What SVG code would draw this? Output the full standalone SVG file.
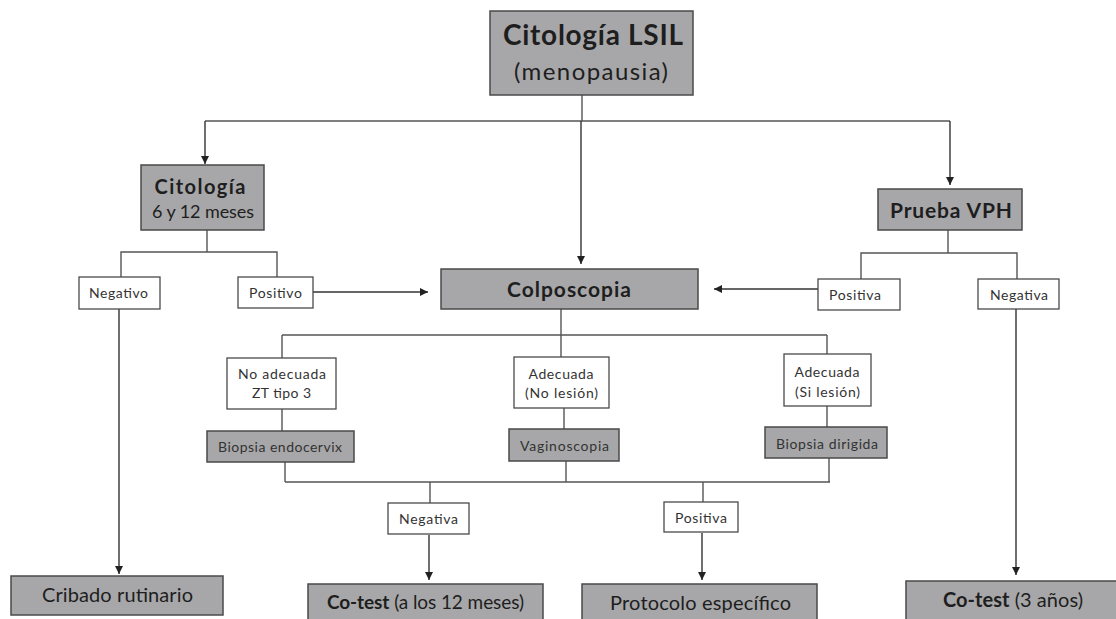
<svg xmlns="http://www.w3.org/2000/svg" width="1116" height="619" viewBox="0 0 1116 619">
<style>
.g{fill:#a7a7a9;stroke:#4a4a4a;stroke-width:1.5}
.w{fill:#ffffff;stroke:#4a4a4a;stroke-width:1.3}
.t{font-family:Lato,"Open Sans","Liberation Sans",sans-serif;fill:#1e1e1e;text-anchor:middle}
.b{font-weight:bold}
.s{font-size:14px;fill:#333}
.c line,.c polyline{stroke:#555;stroke-width:1.4;fill:none}
.c .a{stroke:#333;marker-end:url(#ah)}
</style>
<defs>
<marker id="ah" viewBox="0 0 8 10" refX="8" refY="5" markerWidth="8" markerHeight="10" markerUnits="userSpaceOnUse" orient="auto">
<path d="M0,1 L8,5 L0,9 z" fill="#222"/>
</marker>
</defs>
<rect width="1116" height="619" fill="#ffffff"/>
<g class="c" id="connectors">
<line x1="582" y1="95" x2="582" y2="121"/>
<line x1="205" y1="121" x2="950" y2="121"/>
<line class="a" x1="205" y1="121" x2="205" y2="164"/>
<line class="a" x1="581" y1="121" x2="581" y2="264"/>
<line class="a" x1="950" y1="121" x2="950" y2="185"/>
<line x1="207" y1="230" x2="207" y2="252"/>
<polyline points="121,277 121,252 277,252 277,277"/>
<line class="a" x1="313" y1="292" x2="428" y2="292"/>
<line x1="948" y1="230" x2="948" y2="253"/>
<polyline points="861,279 861,253 1017,253 1017,279"/>
<line class="a" x1="818" y1="289" x2="714" y2="289"/>
<line class="a" x1="119" y1="309" x2="119" y2="574"/>
<line class="a" x1="1016" y1="309" x2="1016" y2="575"/>
<line x1="561" y1="309" x2="561" y2="357"/>
<line x1="282" y1="335" x2="827" y2="335"/>
<line x1="282" y1="335" x2="282" y2="358"/>
<line x1="827" y1="335" x2="827" y2="354"/>
<line x1="282" y1="409" x2="282" y2="431"/>
<line x1="564" y1="408" x2="564" y2="429"/>
<line x1="827" y1="406" x2="827" y2="427"/>
<line x1="285" y1="462" x2="285" y2="482"/>
<line x1="566" y1="461" x2="566" y2="482"/>
<line x1="829" y1="458" x2="829" y2="482"/>
<line x1="285" y1="482" x2="830" y2="482"/>
<line x1="430" y1="482" x2="430" y2="503"/>
<line x1="703" y1="482" x2="703" y2="502"/>
<line class="a" x1="429" y1="535" x2="429" y2="580"/>
<line class="a" x1="702" y1="533" x2="702" y2="580"/>
</g>
<g id="n-lsil">
<rect class="g" x="490" y="11" width="203" height="84"/>
<text class="t b" x="593" y="45" font-size="28" textLength="180">Citología LSIL</text>
<text class="t" x="591" y="80" font-size="24" textLength="154">(menopausia)</text>
</g>
<g id="n-citologia">
<rect class="g" x="141" y="165" width="123" height="65"/>
<text class="t b" x="200" y="194" font-size="20" textLength="91">Citología</text>
<text class="t" x="203" y="218" font-size="18" textLength="102">6 y 12 meses</text>
</g>
<g id="n-vph">
<rect class="g" x="878" y="189" width="144" height="41"/>
<text class="t b" x="951" y="218" font-size="21" textLength="122">Prueba VPH</text>
</g>
<g id="n-negativo">
<rect class="w" x="79" y="277" width="81" height="32"/>
<text class="t s" x="118.5" y="298" textLength="59">Negativo</text>
</g>
<g id="n-positivo">
<rect class="w" x="238" y="277" width="75" height="31"/>
<text class="t s" x="275.5" y="298" textLength="53">Positivo</text>
</g>
<g id="n-colposcopia">
<rect class="g" x="441" y="269" width="257" height="40"/>
<text class="t b" x="569" y="297" font-size="21" textLength="124">Colposcopia</text>
</g>
<g id="n-positiva-vph">
<rect class="w" x="818" y="279" width="82" height="31"/>
<text class="t s" x="855" y="300" textLength="52">Positiva</text>
</g>
<g id="n-negativa-vph">
<rect class="w" x="978" y="279" width="81" height="30"/>
<text class="t s" x="1019" y="300" textLength="58">Negativa</text>
</g>
<g id="n-noadecuada">
<rect class="w" x="227" y="358" width="109" height="51"/>
<text class="t s" x="282" y="379" textLength="88">No adecuada</text>
<text class="t s" x="281.5" y="398" textLength="59">ZT tipo 3</text>
</g>
<g id="n-adecuada-no">
<rect class="w" x="514" y="357" width="95" height="51"/>
<text class="t s" x="561" y="379" textLength="65">Adecuada</text>
<text class="t s" x="561.5" y="398" textLength="73">(No lesión)</text>
</g>
<g id="n-adecuada-si">
<rect class="w" x="784" y="354" width="87" height="52"/>
<text class="t s" x="827" y="377" textLength="65">Adecuada</text>
<text class="t s" x="827.5" y="397" textLength="65">(Si lesión)</text>
</g>
<g id="n-biopsia-endo">
<rect class="g" x="207" y="431" width="147" height="31"/>
<text class="t s" x="280" y="452" textLength="124">Biopsia endocervix</text>
</g>
<g id="n-vaginoscopia">
<rect class="g" x="509" y="429" width="110" height="32"/>
<text class="t s" x="564.5" y="451" textLength="89">Vaginoscopia</text>
</g>
<g id="n-biopsia-dir">
<rect class="g" x="765" y="427" width="122" height="31"/>
<text class="t s" x="827" y="449" textLength="102">Biopsia dirigida</text>
</g>
<g id="n-negativa-b">
<rect class="w" x="388" y="503" width="81" height="31"/>
<text class="t s" x="428.5" y="524" textLength="59">Negativa</text>
</g>
<g id="n-positiva-b">
<rect class="w" x="664" y="502" width="74" height="30"/>
<text class="t s" x="701" y="523" textLength="52">Positiva</text>
</g>
<g id="n-cribado">
<rect class="g" x="11" y="576" width="212" height="39"/>
<text class="t" x="117.5" y="602" font-size="20" textLength="151">Cribado rutinario</text>
</g>
<g id="n-cotest12">
<rect class="g" x="308" y="584" width="235" height="40"/>
<text class="t" x="425.5" y="609" font-size="19" textLength="197"><tspan class="b">Co-test</tspan> (a los 12 meses)</text>
</g>
<g id="n-protocolo">
<rect class="g" x="582" y="584" width="235" height="40"/>
<text class="t" x="700.5" y="610" font-size="20" textLength="181">Protocolo específico</text>
</g>
<g id="n-cotest3">
<rect class="g" x="906" y="581" width="215" height="43"/>
<text class="t" x="1013" y="607" font-size="20" textLength="140"><tspan class="b">Co-test</tspan> (3 años)</text>
</g>
</svg>
